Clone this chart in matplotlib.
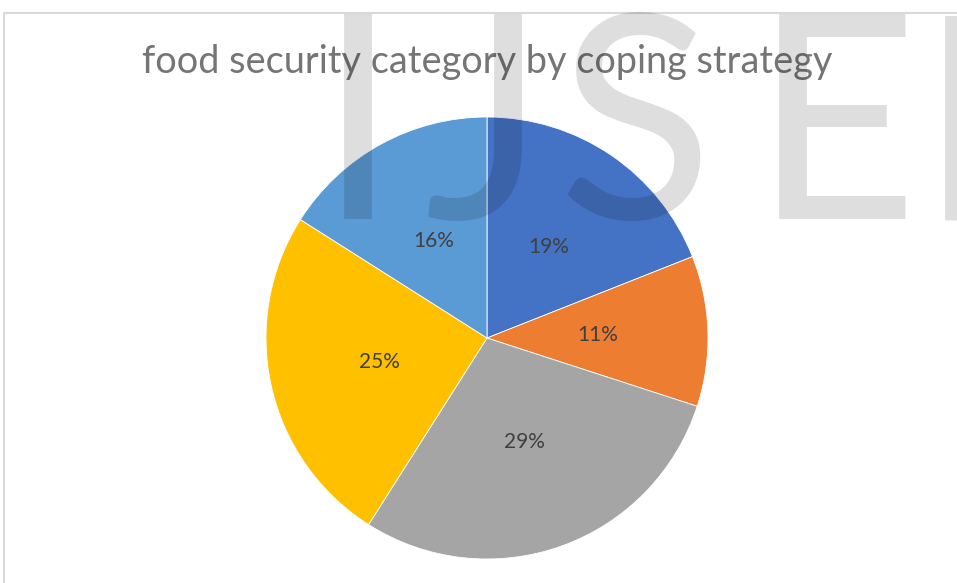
import matplotlib.pyplot as plt
from matplotlib.patches import Rectangle

TITLE = "food security category by coping strategy"
WATERMARK_LETTERS = ["I", "J", "S", "E", "R"]
WATERMARK_CENTERS = [358, 485, 635, 835, 1008]  # pixel x of each letter

# slices, clockwise from 12 o'clock
shares = [19, 11, 29, 25, 16]
colors = ["#4472C4", "#ED7D31", "#A5A5A5", "#FFC000", "#5B9BD5"]

W, H = 957, 583
fig = plt.figure(figsize=(W / 100, H / 100), dpi=100)

# chart frame (cut off on right and bottom in the original)
fig.patches.append(Rectangle((4 / W, -0.1), 1.2, 1.1 - 13 / H, transform=fig.transFigure,
                             fill=False, edgecolor="#d9d9d9", linewidth=1.5))

R = 221
cx, cy = 487, 338
ax = fig.add_axes([(cx - R) / W, (H - cy - R) / H, 2 * R / W, 2 * R / H])
ax.pie(shares, colors=colors, startangle=90, counterclock=False, radius=1,
       autopct=lambda p: f"{p:.0f}%", pctdistance=0.5,
       wedgeprops=dict(edgecolor="white", linewidth=0.6),
       textprops=dict(color="#404040", fontsize=15, family="Lato"))
ax.set_xlim(-1, 1)
ax.set_ylim(-1, 1)
ax.set_aspect("equal")
ax.axis("off")

fig.text(487 / W, 1 - 62 / H, TITLE, ha="center", va="center", fontsize=27.3,
         color="#757575", family="Lato")

# watermark over everything
for letter, x in zip(WATERMARK_LETTERS, WATERMARK_CENTERS):
    fig.text(x / W, 1 - 219 / H, letter, ha="center", va="baseline", fontsize=206,
             color="black", alpha=0.13, family="Lato", zorder=10)

fig.savefig("out.png", dpi=100)
